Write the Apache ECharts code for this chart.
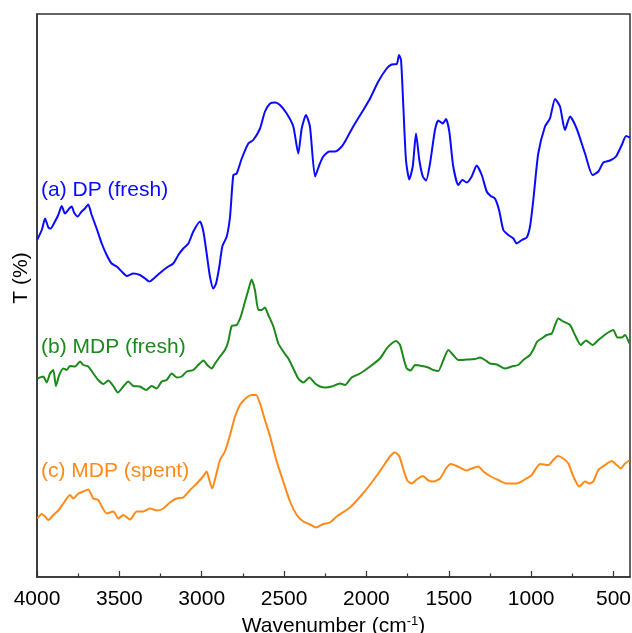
<!DOCTYPE html>
<html>
<head>
<meta charset="utf-8">
<script src="https://cdn.jsdelivr.net/npm/echarts@6/dist/echarts.min.js"></script>
<style>html,body{margin:0;padding:0;background:#fff;}#c{width:632px;height:633px;}</style>
</head>
<body>
<div id="c"></div>
<script>
// Wavenumber (cm-1) and transmittance (arbitrary offset units)
const wnA = [3998,3971,3951,3931,3917,3891,3871,3850,3830,3804,3789,3775,3753,3729,3709,3689,3668,3638,3607,3577,3547,3516,3486,3455,3415,3375,3344,3318,3284,3243,3203,3173,3142,3112,3081,3051,3010,2990,2970,2950,2930,2913,2893,2875,2848,2828,2808,2788,2757,2717,2687,2646,2616,2585,2555,2525,2484,2444,2414,2393,2367,2343,2312,2286,2262,2225,2191,2150,2120,2080,2019,1978,1928,1877,1847,1816,1802,1790,1776,1760,1740,1719,1699,1679,1658,1638,1614,1584,1564,1537,1517,1497,1473,1442,1418,1391,1361,1331,1300,1270,1246,1220,1195,1169,1139,1108,1088,1057,1027,1007,987,957,916,886,855,825,795,764,724,673,627,592,562,521,485,450,424,400];
const tA = [67.5,69.4,71.7,69.9,69.7,71.1,72.4,74.2,72.7,73.7,74.1,72.9,72.1,73.1,73.7,74.5,72.4,69.7,66.7,64.4,62.7,62.1,61.1,60.2,60.7,60.4,59.7,59.1,59.9,61.1,62.1,62.7,64.4,65.7,66.7,69.1,71.1,69.1,64.7,60.1,57.7,58.7,62.1,66.1,68.1,72.1,80.4,80.7,83.7,86.7,87.4,89.7,93.1,94.7,94.9,94.4,92.7,90.1,84.7,89.7,92.4,90.1,80.1,82.4,84.1,85.1,85.1,86.1,87.7,90.1,93.4,95.7,99.1,101.7,102.5,102.6,104.4,103.4,94.1,83.4,79.5,82.1,88.7,83.4,80.1,79.3,82.7,89.4,91.3,90.7,91.6,89.1,82.1,78.4,79.4,78.9,80.1,82.3,80.4,77.1,76.2,75.7,73.4,69.4,68.4,67.7,66.7,67.4,67.9,70.1,75.4,84.7,90.1,91.7,95.6,94.1,89.4,92.1,89.7,84.7,80.4,81.1,82.9,83.3,84.1,86.4,88.2,87.9];

const wnB = [3998,3962,3941,3921,3901,3885,3865,3840,3820,3800,3769,3739,3719,3689,3658,3628,3597,3567,3537,3510,3476,3446,3415,3375,3338,3304,3273,3243,3213,3182,3152,3122,3091,3051,3021,2990,2966,2939,2919,2889,2859,2839,2818,2788,2763,2737,2717,2697,2677,2656,2636,2616,2596,2565,2535,2505,2474,2444,2414,2383,2347,2312,2282,2252,2211,2160,2130,2090,2039,1978,1918,1877,1847,1820,1796,1772,1755,1731,1705,1664,1624,1594,1564,1533,1503,1473,1442,1391,1341,1311,1280,1250,1209,1159,1118,1078,1048,1007,987,963,936,906,875,855,835,805,764,734,699,667,627,592,562,532,501,477,450,430,404];
const tB = [39.7,40.1,38.9,40.7,41.4,38.2,40.4,41.7,41.4,42.2,42.1,43.1,42.4,42.1,40.7,39.4,38.6,39.3,38.2,36.9,38.1,39.1,38.2,38.1,37.4,38.2,37.7,39.1,39.4,40.7,39.9,40.1,41.1,41.4,42.4,43.3,42.4,41.7,42.7,44.1,45.4,47.1,50.2,50.4,52.1,55.1,57.4,59.5,57.4,53.4,53.4,53.9,52.4,50.1,46.7,45.1,43.7,41.7,39.7,38.9,39.9,38.7,38.1,37.9,38.1,38.7,38.4,39.9,40.7,42.1,43.7,45.7,46.7,47.2,46.4,43.4,41.7,41.3,42.4,42.2,41.9,41.4,41.2,43.4,45.4,44.4,43.4,43.5,43.6,43.9,43.4,42.7,42.5,41.7,42.1,42.4,43.4,44.4,45.5,47.1,47.7,48.4,48.7,50.4,51.7,51.1,50.4,48.4,46.4,47.3,46.4,47.4,48.2,48.9,49.4,47.9,47.9,48.4,46.7];

const wnC = [3998,3971,3951,3931,3901,3871,3840,3800,3780,3749,3719,3689,3658,3628,3607,3577,3537,3506,3476,3435,3395,3355,3314,3273,3233,3193,3152,3112,3071,3030,2990,2970,2954,2936,2915,2889,2859,2828,2798,2768,2727,2697,2670,2646,2616,2585,2545,2505,2464,2423,2383,2343,2306,2262,2221,2181,2100,2029,1968,1907,1857,1827,1800,1772,1752,1725,1695,1658,1624,1594,1553,1517,1488,1452,1422,1391,1361,1321,1290,1250,1200,1149,1088,1048,997,946,896,866,839,805,774,744,708,673,647,623,592,552,511,481,456,430,404];
const tC = [11.7,12.6,12.1,11.4,12.4,13.3,14.7,16.4,15.7,16.7,17.1,17.5,15.7,15.4,14.1,12.7,13.1,11.7,12.4,11.5,13.1,13.1,13.7,13.3,13.7,14.9,15.7,15.9,17.4,18.7,20.2,21.1,19.4,17.7,20.1,23.4,25.1,28.4,32.1,34.4,35.9,36.4,36.4,34.7,31.4,28.1,23.1,19.1,15.1,12.4,11.1,10.5,9.9,10.6,10.9,12.1,13.9,16.4,18.9,21.7,24.1,24.9,24.1,21.1,19.3,18.7,19.5,20.2,19.3,19.1,19.7,21.7,22.6,22.2,21.7,21.3,21.7,22.1,21.1,20.2,19.4,18.7,18.7,19.3,20.4,22.6,22.4,23.4,24.2,23.7,22.7,20.1,18.1,19.1,18.7,19.1,21.4,22.4,23.2,22.4,21.7,22.7,23.3];

const seriesNames = ['(a) DP (fresh)', '(b) MDP (fresh)', '(c) MDP (spent)'];
const seriesColors = ['#0a0aff', '#1b8a1b', '#ff8a1a'];
const majorTicks = [4000,3500,3000,2500,2000,1500,1000,500];
const minorTicks = [3750,3250,2750,2250,1750,1250,750];

const zip = (x, y) => x.map((v, i) => [v, y[i]]);
const chart = echarts.init(document.getElementById('c'), null, {renderer: 'canvas'});
const font = 'Liberation Sans, Arial, sans-serif';

chart.setOption({
  animation: false,
  backgroundColor: '#fff',
  grid: {left: 37, right: 2, top: 14, bottom: 56, containLabel: false, outerBoundsMode: 'none',
    show: true, borderColor: '#333', borderWidth: 1.5, backgroundColor: 'transparent'},
  xAxis: [{
    type: 'value', min: 400, max: 4000, inverse: true,
    name: 'Wavenumber (cm{sup|-1})', nameLocation: 'middle', nameGap: 35,
    nameTextStyle: {fontSize: 21, color: '#000', fontFamily: font,
      rich: {sup: {fontSize: 13, verticalAlign: 'top', padding: [0,0,10,0], color: '#000', fontFamily: font}}},
    axisLine: {show: true, lineStyle: {color: '#333', width: 1.5}},
    axisTick: {show: true, inside: true, length: 6, customValues: majorTicks, lineStyle: {color: '#333', width: 1.2}},
    axisLabel: {customValues: majorTicks, fontSize: 21, color: '#000', fontFamily: font, margin: 12,
      formatter: v => String(v)},
    splitLine: {show: false}
  }, {
    type: 'value', min: 400, max: 4000, inverse: true, position: 'bottom',
    axisLine: {show: false},
    axisTick: {show: true, inside: true, length: 3.5, customValues: minorTicks, lineStyle: {color: '#333', width: 1.2}},
    axisLabel: {show: false},
    splitLine: {show: false}
  }],
  yAxis: {
    type: 'value', min: 0, max: 112.6,
    axisLine: {show: true, lineStyle: {color: '#333', width: 1.5}},
    axisTick: {show: false}, axisLabel: {show: false}, splitLine: {show: false}
  },
  graphic: [
    {type: 'text', x: 21, y: 278, rotation: Math.PI / 2,
      style: {text: 'T (%)', fontSize: 21, fill: '#000', fontFamily: font, align: 'center', verticalAlign: 'middle'}},
    {type: 'text', x: 41, y: 190, style: {text: seriesNames[0], fontSize: 21, fill: seriesColors[0], fontFamily: font, align: 'left', verticalAlign: 'middle'}},
    {type: 'text', x: 41, y: 347, style: {text: seriesNames[1], fontSize: 21, fill: seriesColors[1], fontFamily: font, align: 'left', verticalAlign: 'middle'}},
    {type: 'text', x: 41, y: 471, style: {text: seriesNames[2], fontSize: 21, fill: seriesColors[2], fontFamily: font, align: 'left', verticalAlign: 'middle'}}
  ],
  series: [
    {name: seriesNames[0], type: 'line', data: zip(wnA, tA), showSymbol: false, smooth: 0.2, lineStyle: {color: seriesColors[0], width: 2}, itemStyle: {color: seriesColors[0]}},
    {name: seriesNames[1], type: 'line', data: zip(wnB, tB), showSymbol: false, smooth: 0.2, lineStyle: {color: seriesColors[1], width: 2}, itemStyle: {color: seriesColors[1]}},
    {name: seriesNames[2], type: 'line', data: zip(wnC, tC), showSymbol: false, smooth: 0.2, lineStyle: {color: seriesColors[2], width: 2}, itemStyle: {color: seriesColors[2]}}
  ]
});
</script>
</body>
</html>
